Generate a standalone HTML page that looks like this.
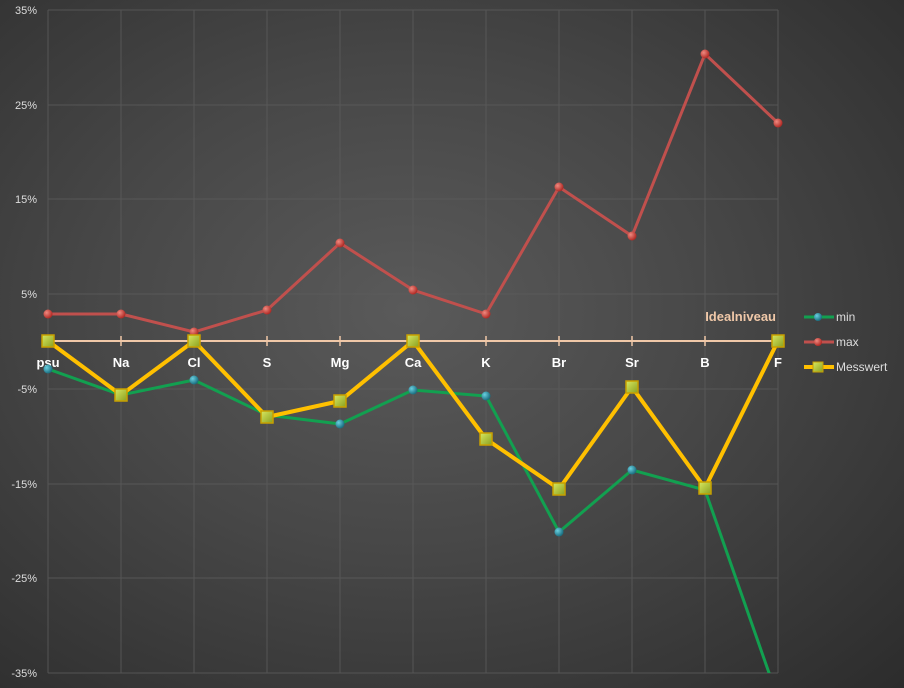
<!DOCTYPE html>
<html><head><style>
html,body{margin:0;padding:0;}
body{width:904px;height:688px;overflow:hidden;background:radial-gradient(ellipse at 45% 45%,#5a5a5a 0%,#474747 45%,#2c2c2c 100%);font-family:"Liberation Sans",sans-serif;}
</style></head><body>
<svg width="904" height="688" xmlns="http://www.w3.org/2000/svg" style="position:absolute;left:0;top:0">
<defs>
<clipPath id="c"><rect x="0" y="10" width="904" height="663"/></clipPath>
<radialGradient id="gr" cx="35%" cy="35%" r="65%"><stop offset="0" stop-color="#f08a80"/><stop offset="1" stop-color="#b02a25"/></radialGradient>
<radialGradient id="gb" cx="35%" cy="35%" r="65%"><stop offset="0" stop-color="#6ad0e0"/><stop offset="1" stop-color="#1a6e80"/></radialGradient>
<linearGradient id="gy" x1="0" y1="0" x2="1" y2="1"><stop offset="0" stop-color="#d8e860"/><stop offset="1" stop-color="#8aa020"/></linearGradient>
</defs>
<g stroke="#5c5c5c" stroke-width="1" opacity="0.8">
<line x1="48" y1="10" x2="778" y2="10"/><line x1="48" y1="105" x2="778" y2="105"/><line x1="48" y1="199" x2="778" y2="199"/><line x1="48" y1="294" x2="778" y2="294"/><line x1="48" y1="389" x2="778" y2="389"/><line x1="48" y1="484" x2="778" y2="484"/><line x1="48" y1="578" x2="778" y2="578"/><line x1="48" y1="673" x2="778" y2="673"/>
<line x1="48" y1="10" x2="48" y2="673"/><line x1="121" y1="10" x2="121" y2="673"/><line x1="194" y1="10" x2="194" y2="673"/><line x1="267" y1="10" x2="267" y2="673"/><line x1="340" y1="10" x2="340" y2="673"/><line x1="413" y1="10" x2="413" y2="673"/><line x1="486" y1="10" x2="486" y2="673"/><line x1="559" y1="10" x2="559" y2="673"/><line x1="632" y1="10" x2="632" y2="673"/><line x1="705" y1="10" x2="705" y2="673"/><line x1="778" y1="10" x2="778" y2="673"/>
</g>
<g font-size="11" fill="#ddd" text-anchor="end">
<text x="37" y="14">35%</text><text x="37" y="109">25%</text><text x="37" y="203">15%</text><text x="37" y="298">5%</text><text x="37" y="393">-5%</text><text x="37" y="488">-15%</text><text x="37" y="582">-25%</text><text x="37" y="677">-35%</text>
</g>
<line x1="48" y1="341" x2="778" y2="341" stroke="#f0c8a8" stroke-width="2"/>
<g stroke="#f0c8a8" stroke-width="1.5">
<line x1="121" y1="336" x2="121" y2="346"/><line x1="194" y1="336" x2="194" y2="346"/><line x1="267" y1="336" x2="267" y2="346"/><line x1="340" y1="336" x2="340" y2="346"/><line x1="413" y1="336" x2="413" y2="346"/><line x1="486" y1="336" x2="486" y2="346"/><line x1="559" y1="336" x2="559" y2="346"/><line x1="632" y1="336" x2="632" y2="346"/><line x1="705" y1="336" x2="705" y2="346"/>
</g>
<g font-size="13" font-weight="bold" fill="#fff" text-anchor="middle">
<text x="48" y="367">psu</text><text x="121" y="367">Na</text><text x="194" y="367">Cl</text><text x="267" y="367">S</text><text x="340" y="367">Mg</text><text x="413" y="367">Ca</text><text x="486" y="367">K</text><text x="559" y="367">Br</text><text x="632" y="367">Sr</text><text x="705" y="367">B</text><text x="778" y="367">F</text>
</g>
<text x="776" y="321" font-size="13" font-weight="bold" fill="#f0c8a8" text-anchor="end">Idealniveau</text>
<polyline fill="none" stroke="#c0504d" stroke-width="3" points="48,314 121,314 194,332 267,310 340,243 413,290 486,314 559,187 632,236 705,54 778,123"/>
<g fill="url(#gr)"><circle cx="48" cy="314" r="4.5"/><circle cx="121" cy="314" r="4.5"/><circle cx="194" cy="332" r="4.5"/><circle cx="267" cy="310" r="4.5"/><circle cx="340" cy="243" r="4.5"/><circle cx="413" cy="290" r="4.5"/><circle cx="486" cy="314" r="4.5"/><circle cx="559" cy="187" r="4.5"/><circle cx="632" cy="236" r="4.5"/><circle cx="705" cy="54" r="4.5"/><circle cx="778" cy="123" r="4.5"/></g>
<g clip-path="url(#c)">
<polyline fill="none" stroke="#12a050" stroke-width="3" points="48,369 121,395 194,380 267,415 340,424 413,390 486,396 559,532 632,470 705,490 775,690"/>
</g>
<g fill="url(#gb)"><circle cx="48" cy="369" r="4.5"/><circle cx="121" cy="395" r="4.5"/><circle cx="194" cy="380" r="4.5"/><circle cx="267" cy="415" r="4.5"/><circle cx="340" cy="424" r="4.5"/><circle cx="413" cy="390" r="4.5"/><circle cx="486" cy="396" r="4.5"/><circle cx="559" cy="532" r="4.5"/><circle cx="632" cy="470" r="4.5"/><circle cx="705" cy="490" r="4.5"/></g>
<polyline fill="none" stroke="#ffc000" stroke-width="4" stroke-linejoin="round" points="48,341 121,395 194,341 267,417 340,401 413,341 486,439 559,489 632,387 705,488 778,341"/>
<g fill="url(#gy)" stroke="#c8a000" stroke-width="1.5">
<rect x="42" y="335" width="12" height="12"/><rect x="115" y="389" width="12" height="12"/><rect x="188" y="335" width="12" height="12"/><rect x="261" y="411" width="12" height="12"/><rect x="334" y="395" width="12" height="12"/><rect x="407" y="335" width="12" height="12"/><rect x="480" y="433" width="12" height="12"/><rect x="553" y="483" width="12" height="12"/><rect x="626" y="381" width="12" height="12"/><rect x="699" y="482" width="12" height="12"/><rect x="772" y="335" width="12" height="12"/>
</g>
<g font-size="12" fill="#ddd">
<line x1="804" y1="317" x2="834" y2="317" stroke="#12a050" stroke-width="3"/><circle cx="818" cy="317" r="4" fill="url(#gb)"/><text x="836" y="321">min</text>
<line x1="804" y1="342" x2="834" y2="342" stroke="#c0504d" stroke-width="3"/><circle cx="818" cy="342" r="4" fill="url(#gr)"/><text x="836" y="346">max</text>
<line x1="804" y1="367" x2="834" y2="367" stroke="#ffc000" stroke-width="4"/><rect x="813" y="362" width="10" height="10" fill="url(#gy)" stroke="#c8a000"/><text x="836" y="371">Messwert</text>
</g>
</svg>
</body></html>
